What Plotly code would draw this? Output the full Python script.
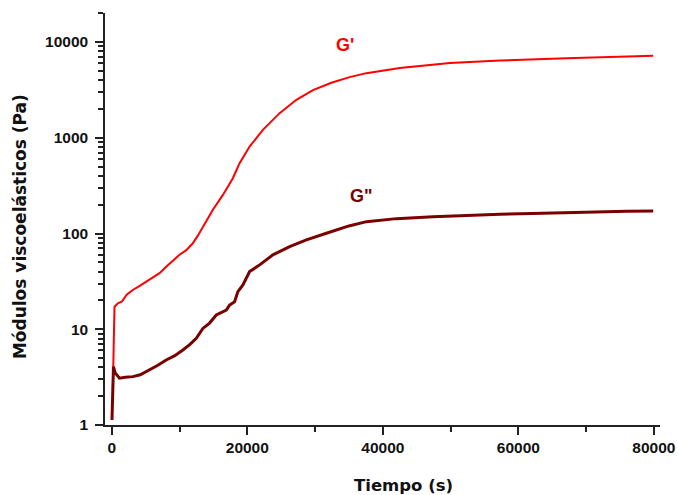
import plotly.graph_objects as go

# tiempo (s) y módulos (Pa)
t_gp = [150, 300, 400, 900, 1500, 2200, 3100, 4000, 5570, 7050, 8030, 10000, 11000,
        11960, 12700, 13440, 14920, 16400, 17870, 18860, 20340, 22300, 24770, 27240,
        29690, 32400, 35100, 37580, 42500, 49900, 57300, 67100, 79900]
gp = [2.3, 10, 17.2, 18.7, 19.5, 23, 25.7, 28, 32.8, 38.5, 45, 60, 67,
      79, 95, 118, 177, 253, 378, 543, 809, 1210, 1807, 2490,
      3150, 3750, 4300, 4730, 5340, 6020, 6410, 6770, 7180]

t_gpp = [30, 150, 250, 500, 1140, 2000, 3100, 4200, 5570, 6800, 8030, 9300, 10490,
         11500, 12470, 13440, 14430, 15420, 16900, 17390, 18120, 18610, 19350, 20340,
         21820, 23780, 26250, 28720, 31670, 35000, 37580, 42000, 47400, 52000, 57300,
         62000, 67100, 72000, 76000, 79900]
gpp = [1.13, 2.5, 4.07, 3.5, 3.08, 3.15, 3.2, 3.35, 3.76, 4.2, 4.78, 5.3, 6.08,
       6.9, 8.05, 10.2, 11.6, 14.1, 15.9, 17.9, 19.4, 24.7, 29, 40,
       47, 59.8, 73, 85.7, 100.7, 120, 133, 143, 150, 155, 158.6,
       162, 166, 169, 171, 172]

RED = "#ff0000"
DARK = "#7a0000"

fig = go.Figure()
fig.add_trace(go.Scatter(x=t_gp, y=gp, mode="lines", line=dict(color=RED, width=2),
                         showlegend=False))
fig.add_trace(go.Scatter(x=t_gpp, y=gpp, mode="lines", line=dict(color=DARK, width=3),
                         showlegend=False))

tickfont = dict(family="Liberation Sans", size=15.5, color="#111", weight="bold")

fig.update_xaxes(
    range=[-1000, 80900], tick0=0, dtick=20000, tickformat="d", ticks="outside",
    ticklen=8, tickwidth=1.5, tickcolor="#222", showline=True, linecolor="#222",
    linewidth=1.5, showgrid=False, zeroline=False, tickfont=tickfont, automargin=False,
    minor=dict(ticks="outside", ticklen=5, dtick=10000, tickcolor="#222", showgrid=False),
)
fig.update_yaxes(
    type="log", range=[0, 4.303], tickvals=[1, 10, 100, 1000, 10000],
    ticktext=["1", "10", "100", "1000", "10000"], ticks="outside", ticklen=8,
    tickwidth=1.5, tickcolor="#222", showline=True, linecolor="#222", linewidth=1.5,
    showgrid=False, zeroline=False, tickfont=tickfont, ticklabelstandoff=4,
    automargin=False,
    minor=dict(ticks="outside", ticklen=5, dtick="D1", tickcolor="#222", showgrid=False),
)

fig.add_annotation(x=34370, y=3.97, text="G'", showarrow=False,
                   font=dict(family="Liberation Sans", size=18, color=RED, weight="bold"))
fig.add_annotation(x=36900, y=2.393, text='G"', showarrow=False,
                   font=dict(family="Liberation Sans", size=18, color=DARK, weight="bold"))

fig.add_annotation(xref="paper", yref="paper", x=0.537, y=-0.147,
                   xanchor="center", yanchor="middle", text="Tiempo (s)", showarrow=False,
                   font=dict(family="DejaVu Sans", size=16.5, color="#111", weight="bold"))
fig.add_annotation(xref="paper", yref="paper", x=-0.153, y=0.4806,
                   xanchor="center", yanchor="middle", textangle=-90,
                   text="Módulos viscoelásticos (Pa)", showarrow=False,
                   font=dict(family="DejaVu Sans", size=17, color="#111", weight="bold"))

fig.update_layout(
    width=678, height=495, margin=dict(l=105, r=18, t=13, b=70),
    paper_bgcolor="white", plot_bgcolor="white",
)

# drop the default 8 px body margin so the figure fills the window exactly
fig.write_html("out.html", config={"displayModeBar": False},
               post_script="document.body.style.margin='0';")
